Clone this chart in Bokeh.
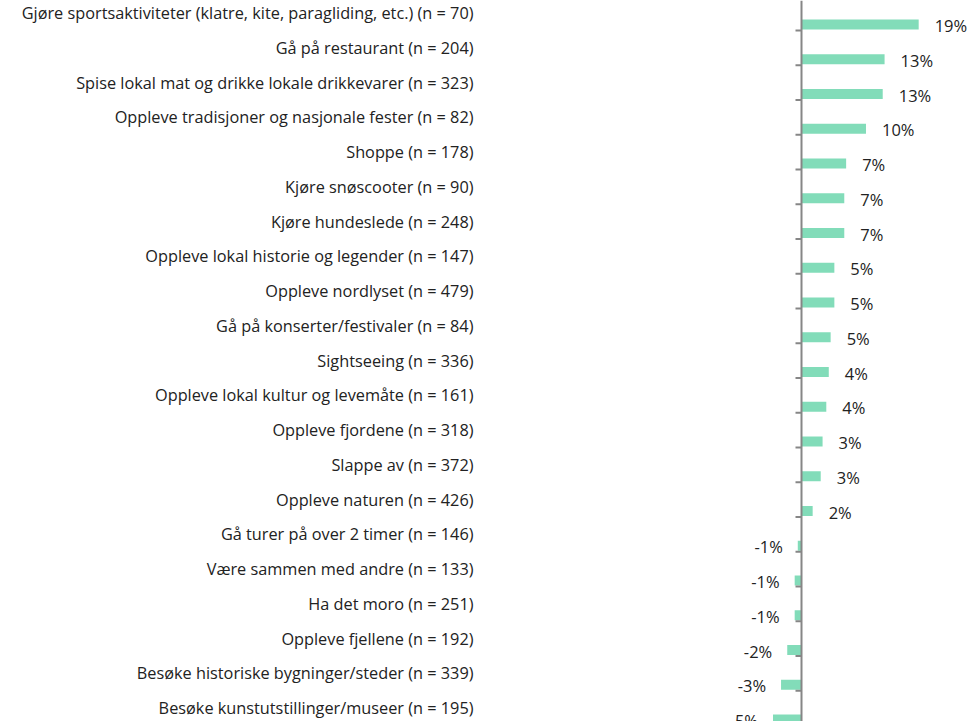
from bokeh.plotting import figure
from bokeh.models import Range1d, FixedTicker, ColumnDataSource, Span
from bokeh.core.properties import value
from bokeh.embed import file_html
from bokeh.resources import INLINE

categories = [
    "Gjøre sportsaktiviteter (klatre, kite, paragliding, etc.) (n = 70)",
    "Gå på restaurant (n = 204)",
    "Spise lokal mat og drikke lokale drikkevarer (n = 323)",
    "Oppleve tradisjoner og nasjonale fester (n = 82)",
    "Shoppe (n = 178)",
    "Kjøre snøscooter (n = 90)",
    "Kjøre hundeslede (n = 248)",
    "Oppleve lokal historie og legender (n = 147)",
    "Oppleve nordlyset (n = 479)",
    "Gå på konserter/festivaler (n = 84)",
    "Sightseeing (n = 336)",
    "Oppleve lokal kultur og levemåte (n = 161)",
    "Oppleve fjordene (n = 318)",
    "Slappe av (n = 372)",
    "Oppleve naturen (n = 426)",
    "Gå turer på over 2 timer (n = 146)",
    "Være sammen med andre (n = 133)",
    "Ha det moro (n = 251)",
    "Oppleve fjellene (n = 192)",
    "Besøke historiske bygninger/steder (n = 339)",
    "Besøke kunstutstillinger/museer (n = 195)",
]
values = [18.9, 13.4, 13.1, 10.4, 7.2, 6.9, 6.9, 5.3, 5.3, 4.7, 4.4, 4.0,
          3.4, 3.1, 1.8, -0.6, -1.1, -1.1, -2.3, -3.3, -4.6]

FONT = "Open Sans"
BAR_COLOR = "#82DCB9"
AXIS_COLOR = "#868686"
TEXT_COLOR = "#222222"

W, H = 970, 721
PX_PER_PCT = 6.2
ROW_PX = 34.75
LEFT = 483
ZERO_PX = 801
FIRST_LABEL_PX = 12.5

n = len(categories)
idx = list(range(n))
bar_off = 11.5 / ROW_PX
bar_h = 10 / ROW_PX
tick_off = bar_off + 6 / ROW_PX

x_start = -(ZERO_PX - LEFT) / PX_PER_PCT
x_end = (W - ZERO_PX) / PX_PER_PCT
y_top = -FIRST_LABEL_PX / ROW_PX
y_bottom = y_top + H / ROW_PX

p = figure(width=W, height=H, output_backend="svg", toolbar_location=None,
           x_range=Range1d(x_start, x_end), y_range=Range1d(y_bottom, y_top),
           x_axis_location=None, min_border_left=LEFT, min_border_right=0,
           min_border_top=0, min_border_bottom=0)
p.outline_line_color = None
p.grid.visible = False
p.background_fill_color = "white"
p.border_fill_color = "white"

ax = p.yaxis[0]
ax.ticker = FixedTicker(ticks=idx)
ax.major_label_overrides = {i: c for i, c in zip(idx, categories)}
ax.axis_line_color = None
ax.major_tick_line_color = None
ax.minor_tick_line_color = None
ax.major_tick_out = 0
ax.major_tick_in = 0
ax.major_label_standoff = 10
ax.major_label_text_font = FONT
ax.major_label_text_font_size = "16.3px"
ax.major_label_text_color = TEXT_COLOR

ybar = [i + bar_off for i in idx]
labels = [f"{round(v)}%" for v in values]
src = ColumnDataSource(dict(
    y=ybar, v=values, lab=labels,
    align=["left" if v >= 0 else "right" for v in values],
    xoff=[16 if v >= 0 else -15 for v in values],
))

p.hbar(y="y", right="v", left=0, height=bar_h, source=src,
       fill_color=BAR_COLOR, line_color=None)

# category axis line at zero with tick marks
p.add_layout(Span(location=0, dimension="height", line_color=AXIS_COLOR, line_width=2))
tick_len = 6 / PX_PER_PCT
p.segment(x0=[0] * n, x1=[-tick_len] * n, y0=[i + tick_off for i in idx],
          y1=[i + tick_off for i in idx], line_color=AXIS_COLOR, line_width=2)

p.text(x="v", y="y", text="lab", source=src, text_align="align",
       x_offset="xoff", y_offset=1, text_baseline="middle",
       text_font=value(FONT), text_font_size="16.5px", text_color=TEXT_COLOR)

open("out.html", "w").write(file_html(p, INLINE))
